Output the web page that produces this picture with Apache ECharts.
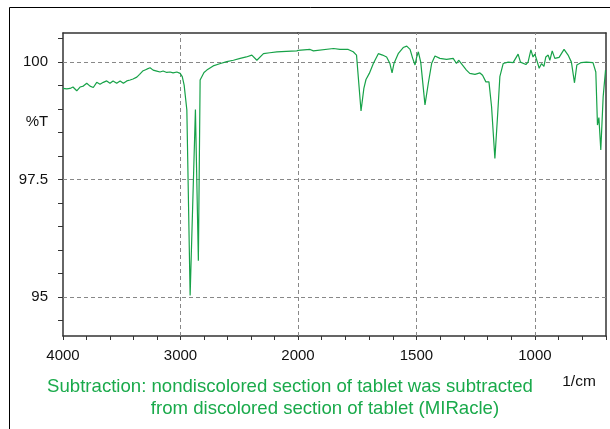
<!DOCTYPE html>
<html>
<head>
<meta charset="utf-8">
<script src="https://cdn.jsdelivr.net/npm/echarts@6/dist/echarts.min.js"></script>
<style>html,body{margin:0;padding:0;background:#fff}#c{width:610px;height:429px}</style>
</head>
<body>
<div id="c"></div>
<script>
// Wavenumbers (1/cm) and %T values
const wavenumber = [
  4000,3968,3940,3915,3883,3855,3827,3798,3770,3742,3713,3685,3657,3628,3600,3574,3543,3514,3486,3457,
  3429,3404,3372,3348,3322,3287,3259,3233,3202,3174,3148,3117,3089,3063,3031,3003,2985,2969,2946,2918,
  2873,2848,2833,2800,2776,2722,2660,2606,2550,2492,2440,2393,2350,2294,2240,2180,2100,2010,2000,1949,
  1935,1850,1823,1788,1767,1753,1734,1722,1713,1699,1682,1661,1643,1626,1612,1603,1595,1577,1556,1541,
  1527,1516,1506,1499,1492,1482,1464,1450,1436,1422,1401,1373,1345,1331,1322,1289,1275,1253,1232,1221,
  1207,1201,1194,1183,1169,1157,1148,1134,1113,1092,1071,1061,1038,1029,1017,1008,1000,982,972,962,
  954,944,937,927,916,898,877,860,846,833,823,805,783,755,743,736,730,722,712,702,700
];
const transmittance = [
  99.44,99.43,99.44,99.47,99.39,99.47,99.49,99.55,99.49,99.46,99.57,99.53,99.57,99.60,99.55,99.60,99.55,99.60,99.55,99.60,
  99.62,99.64,99.68,99.74,99.81,99.85,99.88,99.83,99.81,99.79,99.81,99.78,99.79,99.77,99.79,99.76,99.69,99.51,98.98,95.03,
  98.99,95.77,99.62,99.78,99.83,99.92,99.97,100.01,100.04,100.08,100.11,100.15,100.04,100.18,100.20,100.22,100.23,100.24,100.25,100.27,
  100.24,100.29,100.27,100.27,100.22,100.15,98.96,99.44,99.63,99.76,99.97,100.18,100.15,100.11,99.97,99.77,99.97,100.18,100.31,100.34,
  100.27,100.08,99.94,100.11,100.22,100.00,99.09,99.55,99.97,100.13,100.08,100.06,100.08,99.97,100.04,99.83,99.76,99.74,99.77,99.72,
  99.58,99.55,99.58,99.05,97.95,98.91,99.69,99.97,100.00,99.99,100.17,100.00,99.95,100.00,100.26,100.11,100.17,99.87,99.97,99.91,
  100.11,100.15,100.04,100.24,100.08,100.10,100.27,100.15,100.00,99.56,99.94,99.99,100.00,99.99,99.79,98.66,98.82,98.13,99.26,99.83,99.83
];
// Axis tick / label values
const yLabelValues = [95, 97.5, 100];
const yTickValues = [94.5,95,95.5,96,96.5,97,97.5,98,98.5,99,99.5,100,100.5];
const xLabelsHigh = [4000, 3000, 2000];
const xTicksHigh = [2000,2200,2400,2600,2800,3000,3200,3400,3600,3800,4000];
const xLabelsLow = [1500, 1000];
const xTicksLow = [700,800,900,1000,1100,1200,1300,1400,1500,1600,1700,1800,1900,2000];
const gridLinesHigh = [3000, 2000];
const gridLinesLow = [1500, 1000];
const yMin = 94.17, yMax = 100.62;

const highData = [], lowData = [];
wavenumber.forEach((w, i) => {
  if (w >= 2000) highData.push([w, transmittance[i]]);
  if (w <= 2000) lowData.push([w, transmittance[i]]);
});

const FONT = 'Liberation Sans, Arial, sans-serif';
const axisLineStyle = { color: '#333', width: 1.5 };
const gridStyle = { type: [4, 3], color: '#888', width: 1 };
const green = '#17a248';
const plain = v => String(v);

function markLines(xs) {
  return {
    silent: true, symbol: 'none', z: 1, animation: false,
    label: { show: false },
    lineStyle: gridStyle,
    data: xs.map(v => ({ xAxis: v })).concat(yLabelValues.map(v => ({ yAxis: v })))
  };
}

const chart = echarts.init(document.getElementById('c'));
chart.setOption({
  animation: false,
  backgroundColor: '#fff',
  grid: [
    { left: 63, top: 33, width: 235, height: 303 },
    { left: 298, top: 33, width: 308, height: 303 }
  ],
  xAxis: [
    { gridIndex: 0, type: 'value', min: 2000, max: 4000, inverse: true,
      axisLine: { show: true, lineStyle: axisLineStyle },
      axisTick: { show: true, length: 4, customValues: xTicksHigh, lineStyle: { color: '#333' } },
      axisLabel: { customValues: xLabelsHigh, formatter: plain, fontSize: 15, color: '#111', margin: 12, fontFamily: FONT },
      splitLine: { show: false } },
    { gridIndex: 1, type: 'value', min: 700, max: 2000, inverse: true,
      axisLine: { show: true, lineStyle: axisLineStyle },
      axisTick: { show: true, length: 4, customValues: xTicksLow, lineStyle: { color: '#333' } },
      axisLabel: { customValues: xLabelsLow, formatter: plain, fontSize: 15, color: '#111', margin: 12, fontFamily: FONT },
      splitLine: { show: false } },
    { gridIndex: 0, type: 'value', position: 'top', min: 2000, max: 4000, inverse: true,
      axisLine: { show: true, lineStyle: axisLineStyle }, axisTick: { show: false },
      axisLabel: { show: false }, splitLine: { show: false } },
    { gridIndex: 1, type: 'value', position: 'top', min: 700, max: 2000, inverse: true,
      axisLine: { show: true, lineStyle: axisLineStyle }, axisTick: { show: false },
      axisLabel: { show: false }, splitLine: { show: false } }
  ],
  yAxis: [
    { gridIndex: 0, type: 'value', min: yMin, max: yMax,
      axisLine: { show: true, lineStyle: axisLineStyle },
      axisTick: { show: true, length: 5, customValues: yTickValues, lineStyle: { color: '#333' } },
      axisLabel: { customValues: yLabelValues, fontSize: 15, color: '#111', margin: 15, fontFamily: FONT,
                   formatter: plain },
      splitLine: { show: false } },
    { gridIndex: 1, type: 'value', min: yMin, max: yMax,
      axisLine: { show: false }, axisTick: { show: false }, axisLabel: { show: false }, splitLine: { show: false } },
    { gridIndex: 1, type: 'value', position: 'right', min: yMin, max: yMax,
      axisLine: { show: true, lineStyle: axisLineStyle }, axisTick: { show: false },
      axisLabel: { show: false }, splitLine: { show: false } }
  ],
  series: [
    { type: 'line', xAxisIndex: 0, yAxisIndex: 0, data: highData, showSymbol: false, z: 3,
      lineStyle: { color: green, width: 1.2 }, markLine: markLines(gridLinesHigh) },
    { type: 'line', xAxisIndex: 1, yAxisIndex: 1, data: lowData, showSymbol: false, z: 3,
      lineStyle: { color: green, width: 1.2 }, markLine: markLines(gridLinesLow) }
  ],
  graphic: [
    { type: 'rect', shape: { x: 9.5, y: 7.5, width: 640, height: 460 },
      style: { fill: 'none', stroke: '#000', lineWidth: 1 }, silent: true },
    { type: 'text', style: { text: '%T', x: 37, y: 122, textAlign: 'center', textVerticalAlign: 'middle',
      font: '15px ' + FONT, fill: '#111' } },
    { type: 'text', style: { text: '1/cm', x: 579, y: 382, textAlign: 'center', textVerticalAlign: 'middle',
      font: '15.5px ' + FONT, fill: '#111' } },
    { type: 'text', style: { text: 'Subtraction: nondiscolored section of tablet was subtracted', x: 290, y: 387,
      textAlign: 'center', textVerticalAlign: 'middle', font: '18.6px ' + FONT, fill: '#1aaa4b' } },
    { type: 'text', style: { text: 'from discolored section of tablet (MIRacle)', x: 325, y: 409,
      textAlign: 'center', textVerticalAlign: 'middle', font: '18.6px ' + FONT, fill: '#1aaa4b' } }
  ]
});
</script>
</body>
</html>
